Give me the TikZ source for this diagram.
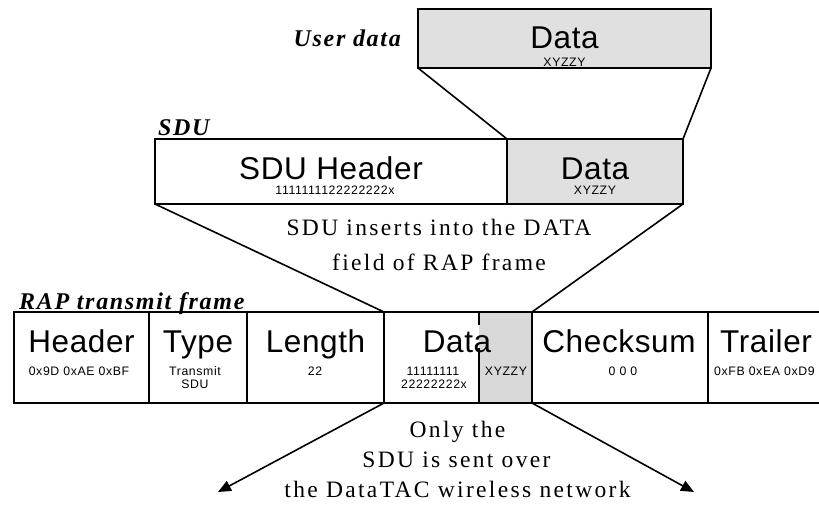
\documentclass[tikz,border=0pt]{standalone}
\usepackage{fontspec}
\setmainfont{Liberation Serif}
\newfontfamily\bigsans{Liberation Sans}[LetterSpace=2]
\newfontfamily\smallsans{Liberation Sans}[LetterSpace=5]
\newfontfamily\spserif{Liberation Serif}[LetterSpace=10]
\newfontfamily\lblfont{Liberation Serif}[LetterSpace=7]
\usetikzlibrary{arrows.meta}
\definecolor{boxgray}{HTML}{E0E0E0}
\definecolor{framegray}{HTML}{D9D9D9}
\begin{document}
\begin{tikzpicture}[x=1pt,y=-1pt,
  cell/.style={draw, line width=2pt, inner sep=0pt, outer sep=0pt, anchor=north west},
  big/.style={font=\bigsans\fontsize{31.5}{34}\selectfont, anchor=base, inner sep=0pt},
  small/.style={font=\smallsans\fontsize{12.3}{14}\selectfont, anchor=base, inner sep=0pt},
  note/.style={font=\spserif\fontsize{23.5}{26}\selectfont, anchor=base, inner sep=0pt},
  lbl/.style={font=\lblfont\bfseries\itshape\fontsize{24}{26}\selectfont, inner sep=0pt},
  conn/.style={line width=1.6pt},
  arr/.style={line width=1.6pt, -{Triangle[length=13pt,width=11pt]}}]
\path[use as bounding box] (0,0) rectangle (819,504);
\clip (0,0) rectangle (819,504);

% User data
\node[cell, fill=boxgray, minimum width=293pt, minimum height=59pt] (ud) at (418,9) {};
\node[big] (udt) at (564.5,48) {Data};
\node[small] (uds) at (564.5,66) {XYZZY};
\node[lbl, anchor=base east] (udl) at (401,46) {User data};

% SDU
\node[cell, minimum width=352pt, minimum height=65pt] (sduh) at (155,139) {};
\node[cell, fill=boxgray, minimum width=176pt, minimum height=65pt] (sdud) at (507,139) {};
\node[big] (sduht) at (331,179) {SDU Header};
\node[small] (sduhs) at (335,194) {1111111122222222x};
\node[big] (sdudt) at (595,179) {Data};
\node[small] (sduds) at (595,194) {XYZZY};
\node[lbl, anchor=base west] (sdul) at (158,135) {SDU};

% RAP frame
\fill[framegray] (479,313) rectangle (531,402);
\node[cell, minimum width=135pt, minimum height=91pt] (hdr) at (14,312) {};
\node[cell, minimum width=98pt, minimum height=91pt] (typ) at (149,312) {};
\node[cell, minimum width=137pt, minimum height=91pt] (len) at (247,312) {};
\node[cell, minimum width=148pt, minimum height=91pt] (dat) at (384,312) {};
\node[cell, minimum width=176pt, minimum height=91pt] (chk) at (532,312) {};
\node[cell, minimum width=130pt, minimum height=91pt] (trl) at (708,312) {};
\draw[line width=2pt] (478.5,312) -- (478.5,325);
\draw[line width=2pt] (478.5,348) -- (478.5,403);
\node[lbl, anchor=base west] (rapl) at (19,309) {RAP transmit frame};

\node[big] (hdrt) at (81.5,352) {Header};
\node[small] (hdrs) at (79,375) {0x9D 0xAE 0xBF};
\node[big] (typt) at (198,352) {Type};
\node[small] (typs1) at (195,375) {Transmit};
\node[small] (typs2) at (195,388) {SDU};
\node[big] (lent) at (315.5,352) {Length};
\node[small] (lens) at (315,375) {22};
\node[big] (datt) at (457,352) {Data};
\node[small] (dats1) at (433,375) {11111111};
\node[small] (dats2) at (434,388) {22222222x};
\node[small] (dats3) at (506,375) {XYZZY};
\node[big] (chkt) at (619,352) {Checksum};
\node[small] (chks) at (623,375) {0 0 0};
\node[big] (trlt) at (766,352) {Trailer};
\node[small, anchor=base west] (trls) at (714,375) {0xFB 0xEA 0xD9};

% connectors
\draw[conn] (ud.south west) -- (sdud.north west);
\draw[conn] (ud.south east) -- (sdud.north east);
\draw[conn] (sduh.south west) -- (dat.north west);
\draw[conn] (sdud.south east) -- (chk.north west);

\node[note] (ins1) at (439,235) {SDU inserts into the DATA};
\node[note] (ins2) at (439,270) {field of RAP frame};

\coordinate (la) at (218,492);
\coordinate (ra) at (694,492);
\draw[arr] (dat.south west) -- (la);
\draw[arr] (chk.south west) -- (ra);

\node[note] (only1) at (457.5,437) {Only the};
\node[note] (only2) at (456.5,467) {SDU is sent over};
\node[note] (only3) at (457.5,497) {the DataTAC wireless network};
\end{tikzpicture}
\end{document}
